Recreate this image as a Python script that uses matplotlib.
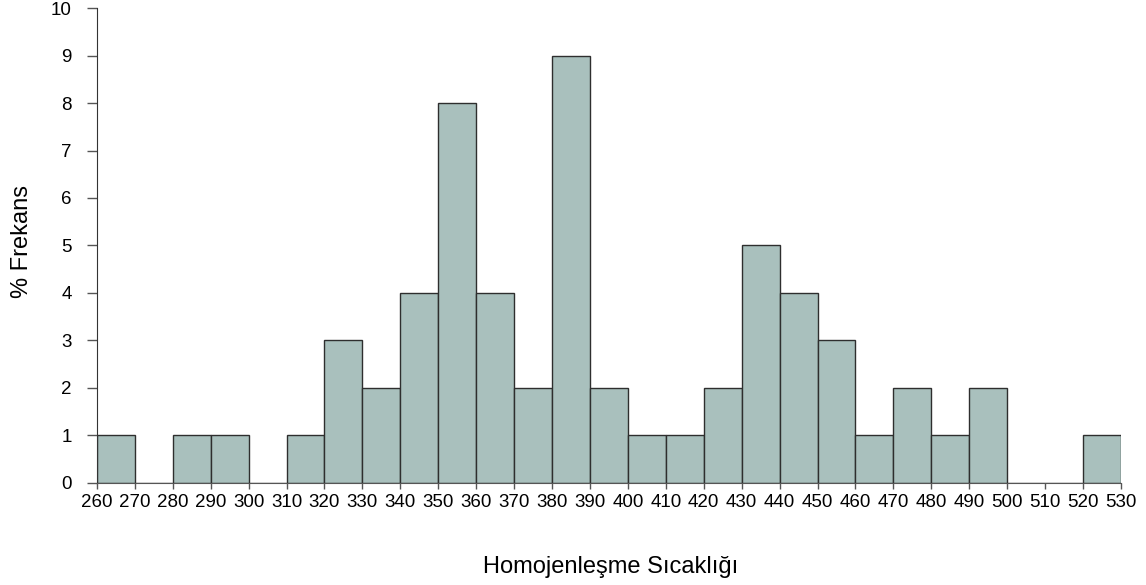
import numpy as np
import matplotlib.pyplot as plt

plt.rcParams['font.family'] = ['Liberation Sans', 'DejaVu Sans']

# bin edges (10-degree bins) and % frequency per bin
bin_edges = list(range(260, 540, 10))
frekans = [1, 0, 1, 1, 0, 1, 3, 2, 4, 8, 4, 2, 9, 2, 1, 1, 2, 5, 4, 3, 1, 2, 1, 2, 0, 0, 1]
y_ticks = list(range(0, 11))

fig = plt.figure(figsize=(11.46, 5.85), dpi=100)
ax = fig.add_axes([0.0846, 0.1744, 0.8935, 0.8119])

left = np.array(bin_edges[:-1])
ax.bar(left, frekans, width=10, align='edge', color='#a9c0bd',
       edgecolor='#2e2e2e', linewidth=1.0)

ax.set_xlim(260, 530)
ax.set_ylim(0, 10)
ax.set_xticks(bin_edges)
ax.set_yticks(y_ticks)

for s in ['top', 'right']:
    ax.spines[s].set_visible(False)
ax.spines['left'].set_color('#333333')
ax.spines['bottom'].set_color('#555555')

ax.tick_params(axis='y', length=7, width=1, color='#555555', labelsize=13.5, pad=11)
ax.tick_params(axis='x', length=4, width=1, color='#555555', labelsize=13.5, pad=4)

fig.text(0.533, 0.031, 'Homojenleşme Sıcaklığı', ha='center', va='center', fontsize=17)
fig.text(0.019, 0.588, '% Frekans', ha='center', va='center', rotation=90, fontsize=17)

fig.savefig('out.png', dpi=100)
